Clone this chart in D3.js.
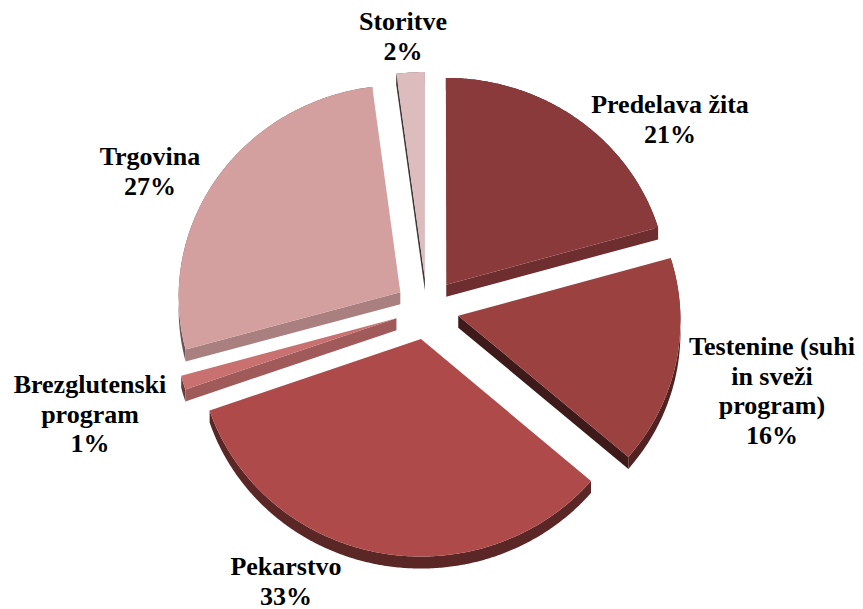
<!DOCTYPE html>
<html>
<head>
<meta charset="utf-8">
<script src="https://cdn.jsdelivr.net/npm/d3@7"></script>
<style>
  html, body { margin: 0; padding: 0; background: #ffffff; }
  svg { display: block; }
</style>
</head>
<body>
<svg id="chart" width="863" height="609"></svg>
<script>
// ---------------- data ----------------
const categories = ["Predelava žita", "Testenine (suhi in sveži program)", "Pekarstvo",
                    "Brezglutenski program", "Trgovina", "Storitve"];
const shares = [20.6, 15.8, 33.2, 1.05, 27.25, 2.1];
const labelLines = [["Predelava žita"], ["Testenine (suhi", "in sveži", "program)"], ["Pekarstvo"],
                    ["Brezglutenski", "program"], ["Trgovina"], ["Storitve"]];

// ---------------- styles / layout ----------------
const topColors = ["#8a3a3b", "#9b4240", "#ae4b4a", "#c87170", "#d3a09f", "#dcbcbd"];
const labelAnchors = [[670, 113], [772, 355], [286, 575], [90, 393], [150, 165], [403, 30]];
const lineHeight = 29.5;
const fontSize = 26;
const fontFamily = "Liberation Serif";

const W = 863, H = 609;
const R = 222, k = 0.955, persp = 0.02, explode = 32, cx = 427, cy = 309, thick = 12;

const svg = d3.select("#chart");

const pie = d3.pie().sort(null).value(d => d)(shares);

function proj(X, V) {
  const f = 1 + persp * V / R;
  return [cx + X * f, cy + V * k * f];
}
function pt(slice, r, a) {
  const mid = (slice.startAngle + slice.endAngle) / 2;
  const ox = explode * Math.sin(mid), oy = -explode * Math.cos(mid);
  return proj(ox + r * Math.sin(a), oy - r * Math.cos(a));
}
function down(p) { return [p[0], p[1] + thick]; }

function scaleColor(c, f) {
  const rgb = d3.rgb(c);
  return d3.rgb(rgb.r * f, rgb.g * f, rgb.b * f).formatHex();
}
function cutShade(normalDeg) {
  let n = ((normalDeg % 360) + 360) % 360;
  if (n <= 165) return 0.8;
  if (n <= 221) return 0.8 + (n - 165) / (221 - 165) * (0.4 - 0.8);
  if (n <= 265) return 0.4 + (n - 221) / (265 - 221) * (0.28 - 0.4);
  return 0.28;
}
// a face is visible when its outward normal points toward the viewer (down on screen)
function facesFront(normalRad) { return -Math.cos(normalRad) > 0; }

const line = d3.line();
const step = Math.PI / 360;

function arcPoints(slice) {
  const pts = [];
  const a0 = slice.startAngle, a1 = slice.endAngle;
  const n = Math.max(2, Math.ceil((a1 - a0) / step));
  for (let i = 0; i <= n; i++) pts.push(pt(slice, R, a0 + (a1 - a0) * i / n));
  return pts;
}

const wallsG = svg.append("g").attr("class", "walls");
const topsG = svg.append("g").attr("class", "tops");

pie.forEach((s, i) => {
  const apex = pt(s, 0, 0);
  const arc = arcPoints(s);
  const base = topColors[i];
  const deg = a => a * 180 / Math.PI;

  // outer curved wall
  const wallPts = arc.concat(arc.slice().reverse().map(down));
  wallsG.append("path")
    .attr("d", line(wallPts) + "Z")
    .attr("fill", scaleColor(base, 0.52));

  // start cut face (normal = start - 90°)
  const n0 = s.startAngle - Math.PI / 2;
  if (facesFront(n0)) {
    const p0 = arc[0];
    wallsG.append("path")
      .attr("d", line([apex, p0, down(p0), down(apex)]) + "Z")
      .attr("fill", scaleColor(base, cutShade(deg(n0))));
  }
  // end cut face (normal = end + 90°)
  const n1 = s.endAngle + Math.PI / 2;
  if (facesFront(n1)) {
    const p1 = arc[arc.length - 1];
    wallsG.append("path")
      .attr("d", line([apex, p1, down(p1), down(apex)]) + "Z")
      .attr("fill", scaleColor(base, cutShade(deg(n1))));
  }

  // top face
  topsG.append("path")
    .attr("d", line([apex].concat(arc)) + "Z")
    .attr("fill", base);
});

// labels
const labelsG = svg.append("g").attr("class", "labels");
pie.forEach((s, i) => {
  const lines = labelLines[i].concat([Math.round(shares[i]) + "%"]);
  const t = labelsG.append("text")
    .attr("x", labelAnchors[i][0])
    .attr("y", labelAnchors[i][1])
    .attr("text-anchor", "middle")
    .attr("font-family", fontFamily)
    .attr("font-weight", "bold")
    .attr("font-size", fontSize)
    .attr("fill", "#000000");
  lines.forEach((l, j) => {
    t.append("tspan")
      .attr("x", labelAnchors[i][0])
      .attr("dy", j === 0 ? 0 : lineHeight)
      .text(l);
  });
});
</script>
</body>
</html>
